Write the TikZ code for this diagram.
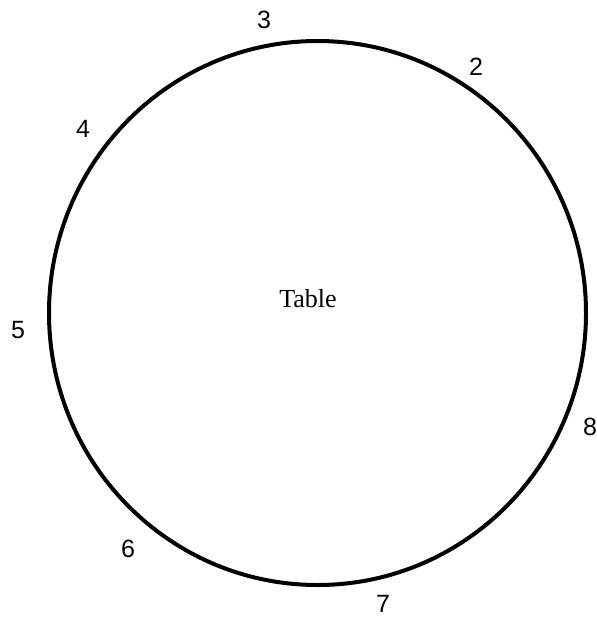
\documentclass[tikz,border=0pt]{standalone}
\usepackage{fontspec}
\usetikzlibrary{shapes.geometric}
\setmainfont{Liberation Serif}
\newfontfamily\digitfont{Liberation Sans}
\begin{document}
\begin{tikzpicture}[x=1pt,y=-1pt,
  seatlabel/.style={font=\digitfont\fontsize{25}{30}\selectfont, inner sep=0pt},
  tablelabel/.style={font=\fontsize{26}{30}\selectfont, inner sep=0pt},
  tableline/.style={draw=black, line width=4pt, ellipse, inner sep=0pt,
    minimum width=537pt, minimum height=544pt}]
\useasboundingbox (0,0) rectangle (597,619);
\node[tableline] (tbl) at (317.5,313) {};
\node[tablelabel] (t) at (308,299) {Table};
\node[seatlabel] (s3) at (264,20) {3};
\node[seatlabel] (s2) at (476,67) {2};
\node[seatlabel] (s4) at (83,129) {4};
\node[seatlabel] (s5) at (18,330) {5};
\node[seatlabel] (s8) at (590,427) {8};
\node[seatlabel] (s6) at (128,549) {6};
\node[seatlabel] (s7) at (383,604) {7};
\end{tikzpicture}
\end{document}
